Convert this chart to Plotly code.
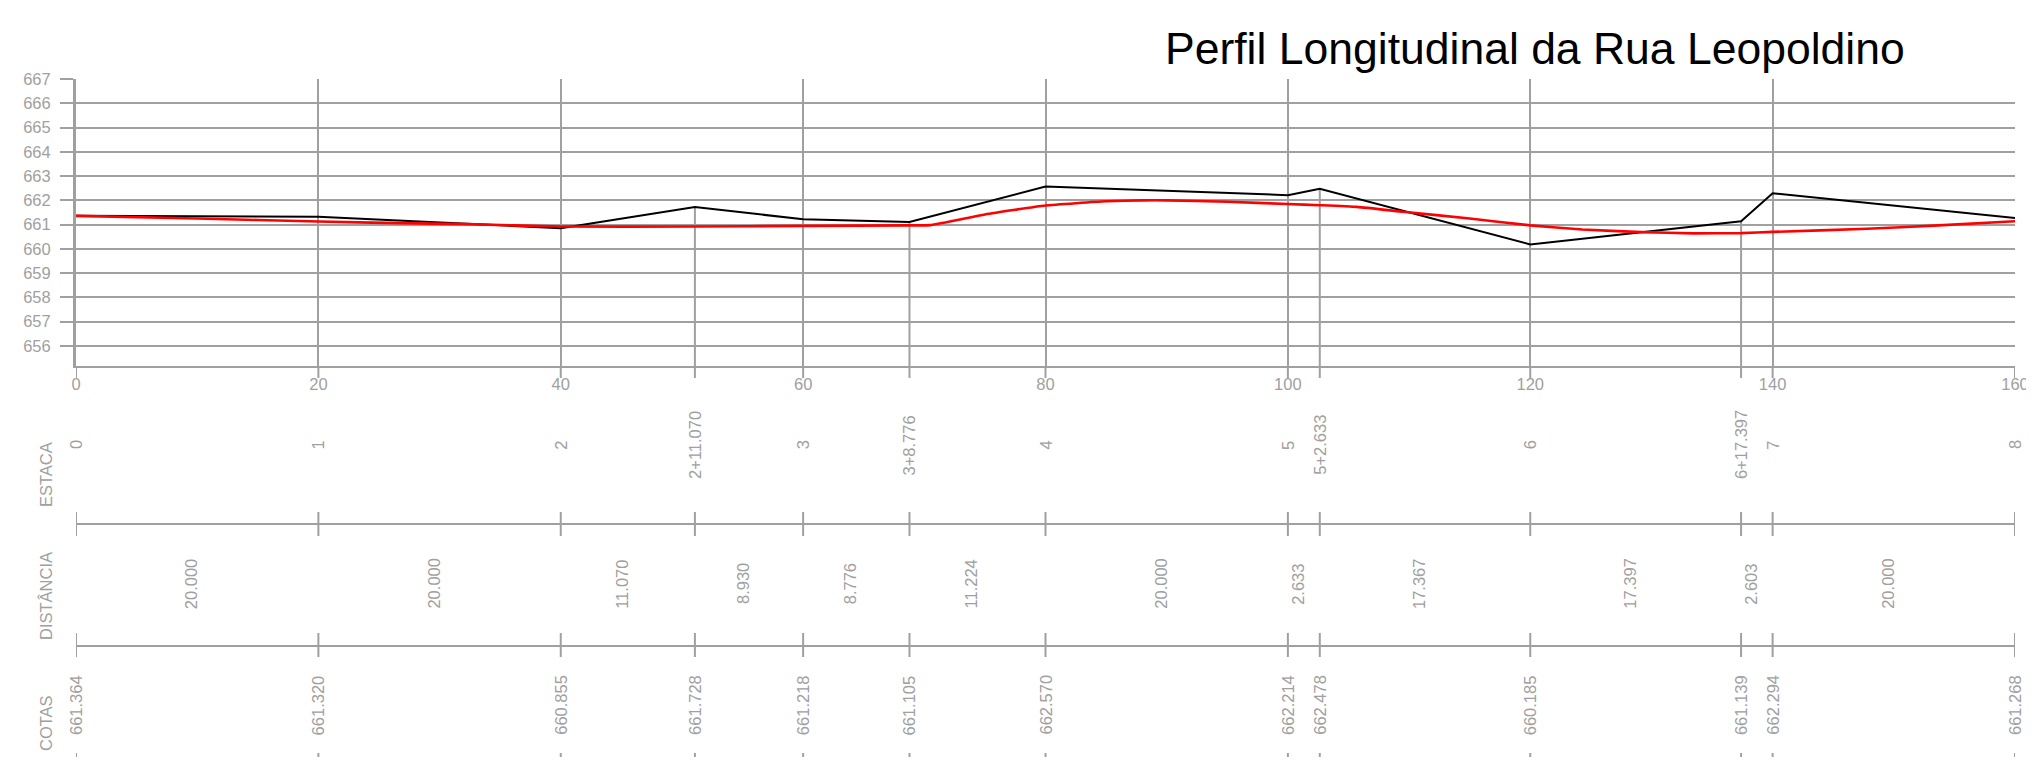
import plotly.graph_objects as go

# ---------------- data ----------------
title_text = "Perfil Longitudinal da Rua Leopoldino"

estaca_labels = ["0", "1", "2", "2+11.070", "3", "3+8.776", "4", "5", "5+2.633",
                 "6", "6+17.397", "7", "8"]
estaca_x = [0, 20, 40, 51.07, 60, 68.776, 80, 100, 102.633, 120, 137.397, 140, 160]
cotas = [661.364, 661.320, 660.855, 661.728, 661.218, 661.105, 662.570, 662.214,
         662.478, 660.185, 661.139, 662.294, 661.268]
distancias = ["20.000", "20.000", "11.070", "8.930", "8.776", "11.224", "20.000",
              "2.633", "17.367", "17.397", "2.603", "20.000"]

greide_x = [0, 10, 20, 26.7, 32.2, 40, 51.07, 60, 68.776, 70.5, 75, 80, 85, 88,
            90, 95, 100, 102.633, 105.7, 109.5, 115, 120, 124.3, 129.2, 133.5,
            137.397, 140, 147.8, 153.3, 160]
greide_y = [661.36, 661.25, 661.13, 661.06, 661.02, 660.92, 660.92, 660.95, 660.97,
            660.98, 661.42, 661.79, 661.96, 662.00, 662.00, 661.94, 661.85, 661.80,
            661.73, 661.53, 661.25, 660.97, 660.80, 660.69, 660.64, 660.65, 660.70,
            660.83, 660.96, 661.14]

y_ticks = list(range(656, 668))
x_ticks = [0, 20, 40, 60, 80, 100, 120, 140, 160]
row_titles = ["ESTACA", "DISTÂNCIA", "COTAS"]

# ---------------- layout constants ----------------
# page body has an 8px margin, so the figure is sized to fit inside the window
W, H = 2024, 749
PLOT_W, PLOT_H = 1939, 287
ML, MT = 68, 71
MR = W - ML - PLOT_W
MB = H - MT - PLOT_H
REF_LEFT, REF_BOTTOM = 76, 366   # plot-area edges in window pixels
Y_MIN, Y_MAX = 655.175, 667
GRAY = "#a0a0a0"
FONT = "Liberation Sans, Arial, sans-serif"


def py(p):
    """window pixel y -> paper y"""
    return (REF_BOTTOM - p) / PLOT_H


def px(p):
    """window pixel x -> paper x"""
    return (p - REF_LEFT) / PLOT_W


fig = go.Figure()

# intermediate station verticals (from terrain point down to axis)
vx, vy = [], []
for sx, c in zip(estaca_x, cotas):
    if sx % 20 != 0:
        vx += [sx, sx, None]
        vy += [c, Y_MIN, None]
fig.add_trace(go.Scatter(x=vx, y=vy, mode="lines",
                         line=dict(color=GRAY, width=2), hoverinfo="skip",
                         showlegend=False))

# terrain (black)
fig.add_trace(go.Scatter(x=estaca_x, y=cotas, mode="lines",
                         line=dict(color="black", width=2), showlegend=False,
                         name="Terreno"))
# grade (red)
fig.add_trace(go.Scatter(x=greide_x, y=greide_y, mode="lines",
                         line=dict(color="#ff0000", width=2.6, shape="spline",
                                   smoothing=0.4),
                         showlegend=False, name="Greide"))

shapes = []
annotations = []

# stubs below the x axis at every station
for sx in estaca_x:
    shapes.append(dict(type="line", xref="x", yref="paper", x0=sx, x1=sx,
                       y0=py(REF_BOTTOM), y1=py(378),
                       line=dict(color=GRAY, width=2)))

# table horizontal lines
for yl in (524, 646):
    shapes.append(dict(type="line", xref="x", yref="paper",
                       x0=estaca_x[0], x1=estaca_x[-1], y0=py(yl), y1=py(yl),
                       line=dict(color=GRAY, width=2)))
# table tick marks
for sx in estaca_x:
    for (a, b) in ((512, 536), (633, 657), (753, 775)):
        shapes.append(dict(type="line", xref="x", yref="paper", x0=sx, x1=sx,
                           y0=py(a), y1=py(b), line=dict(color=GRAY, width=2)))

lab_font = dict(family=FONT, size=16.5, color=GRAY)

# station labels
for sx, lab in zip(estaca_x, estaca_labels):
    annotations.append(dict(x=sx, y=py(445), xref="x", yref="paper", text=lab,
                            textangle=-90, showarrow=False, xanchor="center",
                            yanchor="middle", font=lab_font))
# distance labels
for i, d in enumerate(distancias):
    mx = (estaca_x[i] + estaca_x[i + 1]) / 2
    annotations.append(dict(x=mx, y=py(584), xref="x", yref="paper", text=d,
                            textangle=-90, showarrow=False, xanchor="center",
                            yanchor="middle", xshift=-6, font=lab_font))
# cota labels
for sx, c in zip(estaca_x, cotas):
    annotations.append(dict(x=sx, y=py(705), xref="x", yref="paper",
                            text=f"{c:.3f}", textangle=-90, showarrow=False,
                            xanchor="center", yanchor="middle", font=lab_font))
# row titles
for t, yc in zip(row_titles, (475, 596, 723)):
    annotations.append(dict(x=px(46), y=py(yc), xref="paper",
                            yref="paper", text=t, textangle=-90, showarrow=False,
                            xanchor="center", yanchor="middle", font=lab_font))
# title
annotations.append(dict(x=px(1163), y=py(48), xref="paper",
                        yref="paper", text=title_text, showarrow=False,
                        xanchor="left", yanchor="middle",
                        font=dict(family=FONT, size=44.5, color="black")))

fig.update_layout(
    width=W, height=H,
    margin=dict(l=ML, r=MR, t=MT, b=MB, autoexpand=False),
    paper_bgcolor="white", plot_bgcolor="white",
    font=dict(family=FONT, size=16.5, color=GRAY),
    shapes=shapes, annotations=annotations, showlegend=False,
    xaxis=dict(range=[0, 160], tickmode="array", tickvals=x_ticks,
               ticktext=[str(v) for v in x_ticks],
               showgrid=True, gridcolor=GRAY, gridwidth=2,
               showline=True, linecolor=GRAY, linewidth=2,
               ticks="", ticklabelstandoff=2,
               zeroline=False, tickfont=dict(family=FONT, size=16.5, color=GRAY)),
    yaxis=dict(range=[Y_MIN, Y_MAX], tickmode="array", tickvals=y_ticks,
               ticktext=[str(v) for v in y_ticks],
               showgrid=True, gridcolor=GRAY, gridwidth=2,
               showline=True, linecolor=GRAY, linewidth=3,
               ticks="outside", ticklen=13, tickwidth=2, tickcolor=GRAY,
               ticklabelstandoff=6,
               zeroline=False, tickfont=dict(family=FONT, size=16.5, color=GRAY)),
)

fig.write_html("out.html")
